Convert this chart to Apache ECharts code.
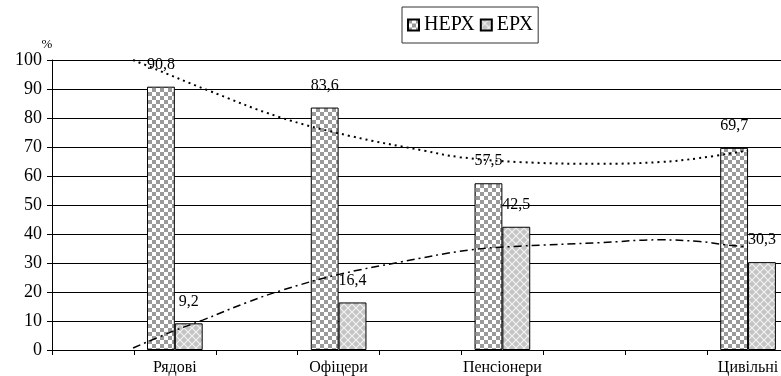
<!DOCTYPE html>
<html>
<head>
<meta charset="utf-8">
<script src="https://cdn.jsdelivr.net/npm/echarts@6/dist/echarts.min.js"></script>
<style>html,body{margin:0;padding:0;background:#fff}#c{width:781px;height:376px}</style>
</head>
<body>
<div id="c"></div>
<script>
// Categories (empty slots are blank category positions on the original axis)
var categories = ['', 'Рядові', '', 'Офіцери', '', 'Пенсіонери', '', '', 'Цивільні'];
var seriesNames = ['НЕРХ', 'ЕРХ'];
var nerxValues = [null, 90.8, null, 83.6, null, 57.5, null, null, 69.7];
var erxValues  = [null, 9.2,  null, 16.4, null, 42.5, null, null, 30.3];
// Trend lines: x in category-slot units, y in %
var nerxTrendX = [0.99, 1.20, 1.89, 2.78, 3.64, 4.55, 4.98, 5.71, 6.69, 7.42, 7.91, 8.50];
var nerxTrendY = [100, 97.6, 89.7, 80.3, 73.8, 68.7, 66.5, 64.8, 64.2, 64.8, 66.2, 68.8];
var erxTrendX  = [0.99, 1.48, 1.84, 2.39, 2.82, 3.48, 4.25, 5.10, 5.71, 6.69, 7.42, 7.91, 8.22, 8.50];
var erxTrendY  = [0.7, 6.5, 10.3, 16.5, 20.7, 25.9, 30.3, 34.5, 35.8, 37.0, 38.0, 37.4, 36.3, 35.5];
var yTicks = {min: 0, max: 100, interval: 10};

function checker() {
  var c = document.createElement('canvas'); c.width = 8; c.height = 8;
  var g = c.getContext('2d');
  g.fillStyle = '#ffffff'; g.fillRect(0, 0, 8, 8);
  g.fillStyle = '#9a9a9a'; g.fillRect(0, 0, 4, 4); g.fillRect(4, 4, 4, 4);
  return c;
}
function diamonds() {
  var c = document.createElement('canvas'); c.width = 8; c.height = 8;
  var g = c.getContext('2d');
  g.fillStyle = '#c4c4c4'; g.fillRect(0, 0, 8, 8);
  g.strokeStyle = '#f2f2f2'; g.lineWidth = 1.2;
  g.beginPath(); g.moveTo(0, 0); g.lineTo(8, 8); g.moveTo(8, 0); g.lineTo(0, 8); g.stroke();
  return c;
}
function pairs(xs, ys) { return xs.map(function (x, i) { return [x, ys[i]]; }); }
var font = 'Liberation Serif';
var lbl = {
  show: true, position: 'top', distance: 14, color: '#000', fontFamily: font, fontSize: 16,
  formatter: function (p) { return p.value == null ? '' : String(p.value).replace('.', ','); }
};

var chart = echarts.init(document.getElementById('c'), null, {renderer: 'canvas'});
chart.setOption({
  animation: false,
  backgroundColor: '#fff',
  textStyle: {fontFamily: font},
  legend: {
    data: seriesNames, left: 402, top: 7, orient: 'horizontal',
    padding: [7, 5, 7, 5], itemGap: 5, itemWidth: 11, itemHeight: 11,
    borderColor: '#333', borderWidth: 1, icon: 'rect',
    textStyle: {fontFamily: font, fontSize: 20, color: '#000', lineHeight: 22}
  },
  grid: {left: 52, top: 60, height: 290, width: 737, containLabel: false, outerBoundsMode: 'none'},
  xAxis: [{
    type: 'category', data: categories, boundaryGap: true,
    axisLine: {lineStyle: {color: '#000', width: 1}},
    axisTick: {show: true, interval: 0, length: 5, lineStyle: {color: '#000'}},
    axisLabel: {interval: 0, color: '#000', fontFamily: font, fontSize: 16, margin: 10}
  }, {
    type: 'value', min: 0, max: 9, show: false
  }],
  yAxis: {
    type: 'value', min: yTicks.min, max: yTicks.max, interval: yTicks.interval,
    name: '%', nameLocation: 'end', nameGap: 6,
    nameTextStyle: {fontFamily: font, fontSize: 13, color: '#000', padding: [0, 10, 0, 0]},
    axisLine: {show: true, lineStyle: {color: '#000', width: 1}},
    axisTick: {show: true, length: 5, lineStyle: {color: '#000'}},
    axisLabel: {color: '#000', fontFamily: font, fontSize: 18, margin: 10},
    splitLine: {show: true, lineStyle: {color: '#000', width: 1}}
  },
  series: [{
    name: seriesNames[0], type: 'bar', data: nerxValues, barWidth: '34%', barGap: '0%',
    itemStyle: {color: {image: checker(), repeat: 'repeat'}, borderColor: '#000', borderWidth: 1},
    label: lbl
  }, {
    name: seriesNames[1], type: 'bar', data: erxValues, barWidth: '34%', barGap: '0%',
    itemStyle: {color: {image: diamonds(), repeat: 'repeat'}, borderColor: '#000', borderWidth: 1},
    label: lbl
  }, {
    name: 'trend1', type: 'line', xAxisIndex: 1, data: pairs(nerxTrendX, nerxTrendY),
    smooth: 0.4, symbol: 'none', silent: true, z: 5,
    lineStyle: {color: '#000', width: 2, type: [2, 4]}
  }, {
    name: 'trend2', type: 'line', xAxisIndex: 1, data: pairs(erxTrendX, erxTrendY),
    smooth: 0.4, symbol: 'none', silent: true, z: 5,
    lineStyle: {color: '#000', width: 1.5, type: [8, 4, 2, 4]}
  }]
});
</script>
</body>
</html>
